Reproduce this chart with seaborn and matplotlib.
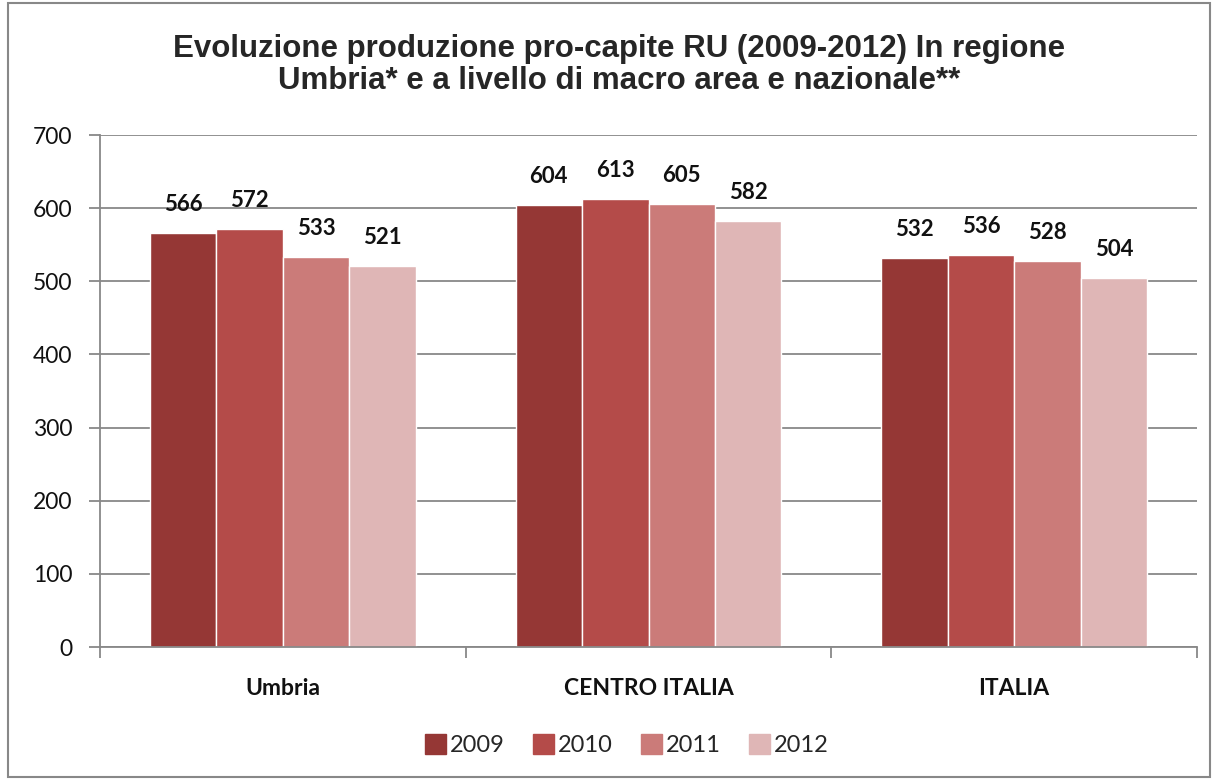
import pandas as pd
import matplotlib.pyplot as plt
import matplotlib.patches as mpatches
import seaborn as sns

# Data
areas = ["Umbria", "CENTRO ITALIA", "ITALIA"]
years = ["2009", "2010", "2011", "2012"]
val_2009 = [566, 604, 532]
val_2010 = [572, 613, 536]
val_2011 = [533, 605, 528]
val_2012 = [521, 582, 504]

colors = ["#953735", "#B44B49", "#CB7B79", "#DFB6B6"]

rows = []
for year, vals in zip(years, [val_2009, val_2010, val_2011, val_2012]):
    for area, v in zip(areas, vals):
        rows.append({"Area": area, "Anno": year, "RU": v})
df = pd.DataFrame(rows)

sns.set_style("white")
plt.rcParams["font.family"] = ["Lato", "DejaVu Sans"]

fig = plt.figure(figsize=(12.17, 7.8), dpi=100)
ax = fig.add_axes([100 / 1217, 1 - 647 / 780, 1097 / 1217, 512 / 780])

sns.barplot(data=df, x="Area", y="RU", hue="Anno", palette=colors,
            width=0.727, saturation=1, ax=ax, legend=False)

ax.set_ylim(0, 700)
ax.set_xlim(-0.5, 2.5)
ax.set_yticks(range(0, 701, 100))
ax.yaxis.grid(True, color="#888888", linewidth=1.3)
ax.set_axisbelow(True)
ax.set_xlabel("")
ax.set_ylabel("")

for side in ["top", "right"]:
    ax.spines[side].set_visible(False)
for side in ["left", "bottom"]:
    ax.spines[side].set_color("#888888")
    ax.spines[side].set_linewidth(1.3)

# value labels above each bar
for container in ax.containers:
    ax.bar_label(container, fmt="%d", padding=13, fontsize=16, fontweight="bold",
                 color="#111111")

# y ticks
ax.tick_params(axis="y", length=8, width=1.3, color="#888888", pad=12,
               labelsize=16.5, left=True, labelcolor="#111111")
# x ticks at category boundaries, labels centered
ax.set_xticks([-0.5, 0.5, 1.5, 2.5], minor=False)
ax.set_xticklabels([])
ax.set_xticks([0, 1, 2], minor=True)
ax.set_xticklabels(areas, minor=True, fontsize=16.5, fontweight="bold",
                   color="#111111")
ax.tick_params(axis="x", which="major", length=8, width=1.3, color="#888888",
               bottom=True, direction="out")
ax.tick_params(axis="x", which="minor", length=0, pad=22)

fig.suptitle("Evoluzione produzione pro-capite RU (2009-2012) In regione\n"
             "Umbria* e a livello di macro area e nazionale**",
             x=0.509, y=0.957, fontsize=22.5, fontweight="bold",
             family=["Liberation Sans", "DejaVu Sans"], linespacing=1.12)

handles = [mpatches.Patch(color=c, label=y) for c, y in zip(colors, years)]
fig.legend(handles=handles, loc="center", bbox_to_anchor=(0.515, 0.045),
           ncol=4, frameon=False, fontsize=17, handlelength=0.9,
           handleheight=0.9, handletextpad=0.15, columnspacing=1.2)

# outer chart border
fig.patches.append(mpatches.Rectangle((8 / 1217, 3 / 780), 1202 / 1217, 774 / 780,
                                      transform=fig.transFigure, fill=False,
                                      edgecolor="#888888", linewidth=1.5))

fig.savefig("out.png", dpi=100)
